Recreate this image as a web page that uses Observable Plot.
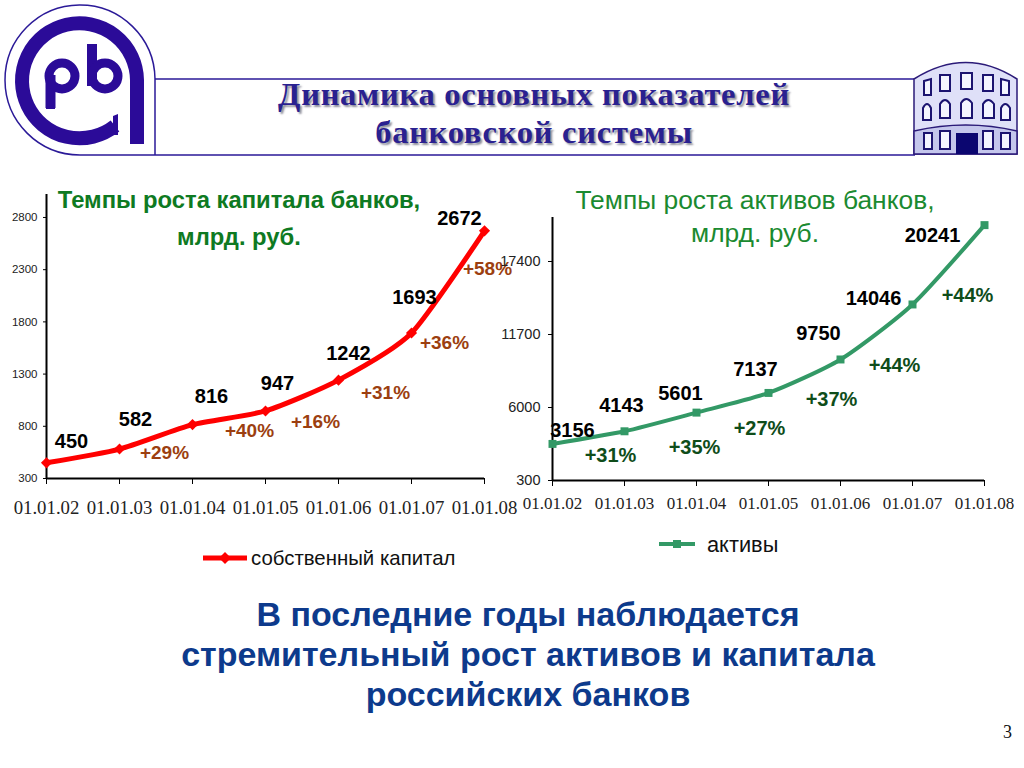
<!DOCTYPE html>
<html lang="ru">
<head>
<meta charset="utf-8">
<title>Динамика основных показателей банковской системы</title>
<script src="https://cdn.jsdelivr.net/npm/d3@7"></script>
<script src="https://cdn.jsdelivr.net/npm/@observablehq/plot@0.6"></script>
<style>
  html, body { margin: 0; padding: 0; background: #fff; overflow: hidden; }
  #page { position: relative; width: 1024px; height: 768px; overflow: hidden; font-family: "Liberation Sans", Arial, sans-serif; }
  #page > * { position: absolute; }
  .chart svg { overflow: visible; background: transparent; }
  #head { left: 155px; width: 758px; top: 76px; margin: 0; text-align: center; font: bold 32.5px/37.5px "Liberation Serif", serif; color: #2a2190; text-shadow: 2px 2px 2px #8f8f9c; letter-spacing: 0.75px; }
  .sub { text-align: center; }
  #subLeft { left: 19px; width: 440px; top: 181px; font-weight: bold; font-size: 23.8px; line-height: 37px; color: #0e7a22; }
  #subRight { left: 535px; width: 440px; top: 184px; font-size: 26.4px; line-height: 33px; color: #1b8a30; }
  .legend { color: #111; white-space: nowrap; }
  #bottom { left: 128px; width: 800px; top: 594px; text-align: center; font-weight: bold; font-size: 34px; line-height: 40px; color: #0d3a8c; }
  #pageNo { left: 1003px; top: 722px; font: 18px "Liberation Serif", serif; color: #111; }
</style>
</head>
<body>
<div id="page">
  <svg id="deco" style="left:0;top:0" width="1024" height="170" viewBox="0 0 1024 170">
    <!-- header frame -->
    <g fill="none" stroke="#2b1a98" stroke-width="1.5">
      <path d="M155 79H915M80 155H915M155 79V155"/>
      <path d="M155 79A75 75 0 1 0 80 155"/>
    </g>
    <!-- logo -->
    <g fill="none" stroke="#2b0b98">
      <path d="M137 144V80A57.5 57.5 0 1 0 115 126" stroke-width="14"/>
      <path d="M50.5 108V75" stroke-width="10"/>
      <circle cx="62" cy="76" r="13" stroke-width="9"/>
      <path d="M92 44V86" stroke-width="10"/>
      <circle cx="105" cy="76" r="13" stroke-width="9"/>
    </g>
    <path d="M113 116L118 114V135L113 135Z" fill="#2b0b98"/>
    <rect x="46" y="95" width="9" height="14" fill="#2b0b98"/>
    <!-- building -->
    <path d="M914 79Q966 46 1017 79V154H914Z" fill="#dfe0f8" stroke="#2b1a78" stroke-width="1.5"/>
    <path d="M914 131Q966 119 1017 131V154H914Z" fill="#c4c6ec" stroke="#2b1a78" stroke-width="1.5"/>
    <g fill="#f4f5ff" stroke="#1c1470" stroke-width="2">
      <path d="M924 81L931 79V95L924 95Z"/><rect x="940" y="75" width="10" height="16"/><rect x="961" y="73" width="11" height="16"/><rect x="983" y="75" width="10" height="16"/>
      <path d="M1001 79L1009 81V95L1001 95Z"/>
      <path d="M923 120V108Q927 100 931 108V120Z"/><path d="M940 118V104Q945 96 950 104V118Z"/><path d="M961 118V103Q966 95 972 103V118Z"/><path d="M983 118V104Q988 96 994 104V118Z"/><path d="M1001 120V108Q1005 100 1010 108V120Z"/>
      <rect x="924" y="133" width="8" height="16"/><rect x="940" y="131" width="10" height="18"/><rect x="983" y="131" width="10" height="18"/><rect x="1001" y="133" width="9" height="16"/>
    </g>
    <rect x="956" y="133" width="22" height="21" fill="#0b0670"/>
  </svg>

  <h1 id="head">Динамика основных показателей<br>банковской системы</h1>
  <div id="subLeft" class="sub">Темпы роста капитала банков,<br>млрд. руб.</div>
  <div id="subRight" class="sub">Темпы роста активов банков,<br>млрд. руб.</div>

  <div id="chartLeft" class="chart" style="left:0;top:180px"></div>
  <div id="chartRight" class="chart" style="left:500px;top:180px"></div>

  <svg style="left:200px;top:548px" width="50" height="20"><path d="M3 10H47" stroke="#ff0000" stroke-width="5"/><path d="M25 4L31 10L25 16L19 10Z" fill="#ff0000"/></svg>
  <div class="legend" style="left:251px;top:547px;font-size:20.4px">собственный капитал</div>
  <svg style="left:655px;top:534px" width="44" height="20"><path d="M4 10H40" stroke="#339966" stroke-width="4"/><rect x="18" y="6" width="8" height="8" fill="#339966"/></svg>
  <div class="legend" style="left:707px;top:532px;font-size:21.8px">активы</div>

  <div id="bottom">В последние годы наблюдается<br>стремительный рост активов и капитала<br>российских банков</div>
  <div id="pageNo">3</div>
</div>

<script>
const dates = ["01.01.02", "01.01.03", "01.01.04", "01.01.05", "01.01.06", "01.01.07", "01.01.08"];

const capital = [450, 582, 816, 947, 1242, 1693, 2672];
const capitalGrowth = ["+29%", "+40%", "+16%", "+31%", "+36%", "+58%"];
const capitalTicks = [300, 800, 1300, 1800, 2300, 2800];

const assets = [3156, 4143, 5601, 7137, 9750, 14046, 20241];
const assetsGrowth = ["+31%", "+35%", "+27%", "+37%", "+44%", "+44%"];
const assetsTicks = [300, 6000, 11700, 17400];

// label nudges, hand placed as in the slide
const capitalValueNudge = [[25, -21], [16, -29], [19, -28], [12, -27], [10, -27], [3, -35], [-25, -12]];
const capitalGrowthNudge = [[45, 4], [57, 6], [50, 11], [47, 13], [33, 10], [3, 38]];
const assetsValueNudge = [[20, -13], [-3, -26], [-16, -19], [-13, -23], [-22, -26], [-39, -6], [-52, 10]];
const assetsGrowthNudge = [[-14, 24], [-2, 35], [-9, 36], [-9, 40], [-18, 61], [-17, 70]];

const sans = "Liberation Sans";
const serif = "Liberation Serif";

function drawChart(opts) {
  const rows = dates.map(function (d, i) { return { date: d, value: opts.values[i] }; });

  const valueLabels = rows.map(function (r, i) {
    return Plot.text([r], {
      x: "date", y: "value", text: function (d) { return String(d.value); },
      dx: opts.valueNudge[i][0], dy: opts.valueNudge[i][1],
      fontFamily: sans, fontSize: opts.labelSize, fontWeight: 700, fill: "#000"
    });
  });
  // growth labels belong to the later of the two dates
  const growthLabels = opts.growth.map(function (g, i) {
    return Plot.text([rows[i + 1]], {
      x: "date", y: "value", text: function () { return g; },
      dx: opts.growthNudge[i][0], dy: opts.growthNudge[i][1],
      fontFamily: sans, fontSize: opts.growthSize, fontWeight: 700, fill: opts.growthColor
    });
  });

  return Plot.plot({
    width: opts.width,
    height: 340,
    marginLeft: opts.xRange[0],
    marginRight: opts.width - opts.xRange[1],
    marginTop: opts.yRange[1],
    marginBottom: 340 - opts.yRange[0],
    style: { background: "transparent", overflow: "visible" },
    x: { type: "point", domain: dates, padding: 0, label: null },
    y: { domain: opts.yDomain, label: null },
    marks: [
      Plot.axisX({
        ticks: dates, tickSize: 6, tickPadding: opts.xPad, label: null,
        fontFamily: serif, fontSize: opts.xSize, fill: "#222", stroke: "#000"
      }),
      Plot.axisY({
        ticks: opts.ticks, tickSize: opts.yTick, tickPadding: opts.yPad, label: null,
        tickFormat: function (d) { return String(d); },
        fontFamily: sans, fontSize: opts.ySize, fill: "#222", stroke: "#000"
      }),
      Plot.ruleX([dates[0]], { stroke: "#000", strokeWidth: 2 }),
      Plot.ruleY([opts.yDomain[0]], { stroke: "#000", strokeWidth: 2 }),
      Plot.line(rows, { x: "date", y: "value", stroke: opts.color, strokeWidth: opts.lineWidth, curve: "cardinal", tension: 0.35 }),
      Plot.dot(rows, { x: "date", y: "value", fill: opts.color, symbol: opts.symbol, r: opts.dotR }),
      ...valueLabels,
      ...growthLabels
    ]
  });
}

document.getElementById("chartLeft").append(drawChart({
  width: 520,
  values: capital, growth: capitalGrowth, ticks: capitalTicks,
  valueNudge: capitalValueNudge, growthNudge: capitalGrowthNudge,
  xRange: [46, 484], yDomain: [300, 3020], yRange: [298, 14],
  color: "#ff0000", lineWidth: 5, symbol: "diamond2", dotR: 5,
  growthColor: "#9c3f10", labelSize: 20, growthSize: 19,
  xSize: 18.8, xPad: 16, ySize: 11.5, yTick: 3, yPad: 6
}));

document.getElementById("chartRight").append(drawChart({
  width: 524,
  values: assets, growth: assetsGrowth, ticks: assetsTicks,
  valueNudge: assetsValueNudge, growthNudge: assetsGrowthNudge,
  xRange: [52, 484], yDomain: [300, 20836], yRange: [300, 37],
  color: "#339966", lineWidth: 4, symbol: "square", dotR: 4.5,
  growthColor: "#0f4d1a", labelSize: 20, growthSize: 20,
  xSize: 17, xPad: 10, ySize: 14.5, yTick: 4, yPad: 8
}));
</script>
</body>
</html>
